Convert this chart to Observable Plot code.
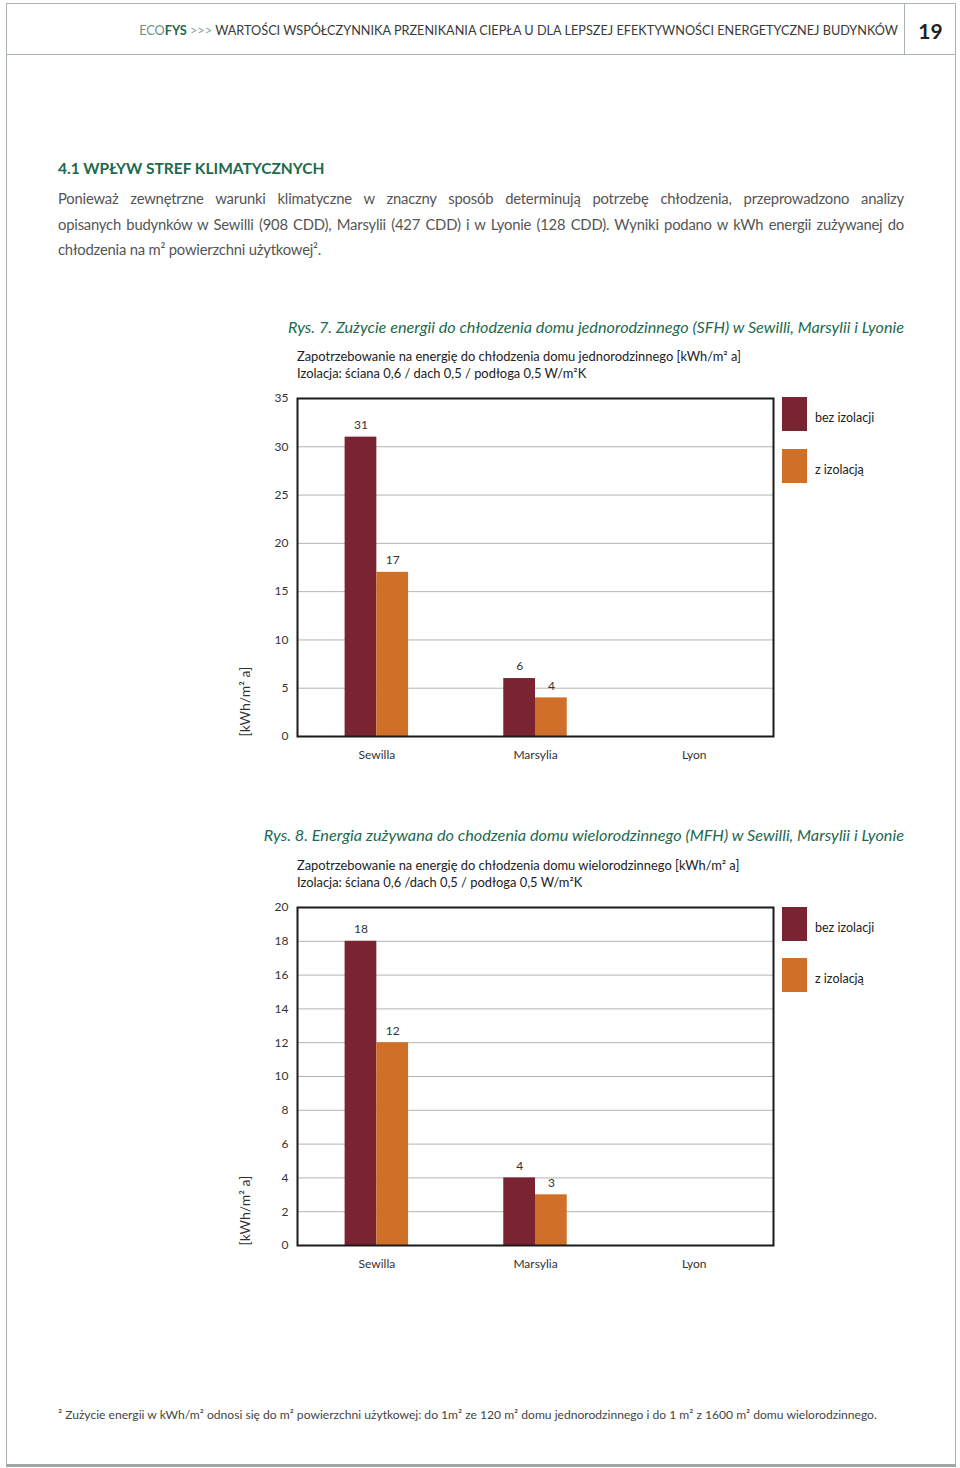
<!DOCTYPE html>
<html lang="pl">
<head>
<meta charset="utf-8">
<script src="https://cdn.jsdelivr.net/npm/d3@7"></script>
<script src="https://cdn.jsdelivr.net/npm/@observablehq/plot@0.6"></script>
<style>
  html, body { margin: 0; padding: 0; background: #fff; }
  #page { position: relative; width: 960px; height: 1468px; overflow: hidden; font-family: Lato, "Open Sans", sans-serif; color: #333; }
  .abs { position: absolute; white-space: nowrap; }
  .border { position: absolute; left: 6px; top: 3px; width: 948px; height: 1460px; border: 1.5px solid #a9b3af; border-bottom-width: 3px; border-bottom-color: #9ea8a4; }
  .hline { position: absolute; left: 6px; top: 54px; width: 950px; height: 0; border-top: 1.5px solid #a9b3af; }
  .vline { position: absolute; left: 904px; top: 3px; width: 0; height: 52px; border-left: 1.5px solid #a9b3af; }
  .green { color: #1d6a4e; }
  .swatch { position: absolute; width: 25px; height: 34px; }
  .leg { position: absolute; font-size: 12.5px; color: #222; line-height: 16px; }
  .chart { position: absolute; left: 0; }
  .para { position: absolute; left: 58px; width: 846px; font-size: 14.8px; letter-spacing: -0.2px; line-height: 25.5px; color: #555; white-space: nowrap; }
  .jl { text-align: justify; text-align-last: justify; }
</style>
</head>
<body>
<div id="page">
  <div class="border"></div>
  <div class="hline"></div>
  <div class="vline"></div>

  <div class="abs" style="right:62px; top:22px; font-size:12.7px; line-height:16px; color:#3a3a3a;"><span style="color:#6f8f84;">ECO</span><b style="color:#1d6a4e;">FYS</b> <span style="color:#8aa59b;">&gt;&gt;&gt;</span> WARTOŚCI WSPÓŁCZYNNIKA PRZENIKANIA CIEPŁA U DLA LEPSZEJ EFEKTYWNOŚCI ENERGETYCZNEJ BUDYNKÓW</div>
  <div class="abs" style="left:905px; width:51px; text-align:center; top:18px; font-size:21px; line-height:26px; font-weight:bold; color:#222;">19</div>

  <div class="abs green" style="left:58px; top:158px; font-size:15.5px; line-height:20px; font-weight:bold;">4.1 WPŁYW STREF KLIMATYCZNYCH</div>
  <div class="para jl" style="top:186px;">Ponieważ zewnętrzne warunki klimatyczne w znaczny sposób determinują potrzebę chłodzenia, przeprowadzono analizy</div>
  <div class="para jl" style="top:211.5px;">opisanych budynków w Sewilli (908 CDD), Marsylii (427 CDD) i w Lyonie (128 CDD). Wyniki podano w kWh energii zużywanej do</div>
  <div class="para" style="top:237px;">chłodzenia na m² powierzchni użytkowej².</div>

  <div class="abs green" style="right:56px; top:317px; font-size:16.2px; line-height:20px; font-style:italic;">Rys. 7. Zużycie energii do chłodzenia domu jednorodzinnego (SFH) w Sewilli, Marsylii i Lyonie</div>
  <div class="abs" style="left:297px; top:348px; font-size:12.9px; line-height:17px; color:#222;">Zapotrzebowanie na energię do chłodzenia domu jednorodzinnego [kWh/m² a]<br>Izolacja: ściana 0,6 / dach 0,5 / podłoga 0,5 W/m²K</div>
  <div id="chart1" class="chart" style="top:388px;"></div>
  <div class="swatch" style="left:782px; top:397px; background:#7a2331;"></div>
  <div class="leg" style="left:815px; top:410px;">bez izolacji</div>
  <div class="swatch" style="left:782px; top:449px; background:#d07028;"></div>
  <div class="leg" style="left:815px; top:462px;">z izolacją</div>

  <div class="abs green" style="right:56px; top:825px; font-size:16.3px; line-height:20px; font-style:italic;">Rys. 8. Energia zużywana do chodzenia domu wielorodzinnego (MFH) w Sewilli, Marsylii i Lyonie</div>
  <div class="abs" style="left:297px; top:857px; font-size:12.9px; line-height:16.5px; color:#222;">Zapotrzebowanie na energię do chłodzenia domu wielorodzinnego [kWh/m² a]<br>Izolacja: ściana 0,6 /dach 0,5 / podłoga 0,5 W/m²K</div>
  <div id="chart2" class="chart" style="top:897px;"></div>
  <div class="swatch" style="left:782px; top:907px; background:#7a2331;"></div>
  <div class="leg" style="left:815px; top:920px;">bez izolacji</div>
  <div class="swatch" style="left:782px; top:958px; background:#d07028;"></div>
  <div class="leg" style="left:815px; top:971px;">z izolacją</div>

  <div class="abs" style="left:58px; top:1407px; font-size:12.1px; line-height:16px; color:#444;">² Zużycie energii w kWh/m² odnosi się do m² powierzchni użytkowej: do 1m² ze 120 m² domu jednorodzinnego i do 1 m² z 1600 m² domu wielorodzinnego.</div>
</div>

<script>
// ---- data ----
const cities = ["Sewilla", "Marsylia", "Lyon"];
const seriesNames = ["bez izolacji", "z izolacją"];
const seriesColors = ["#7a2331", "#d07028"];

const sfhBez = [31, 6, null];
const sfhZ = [17, 4, null];
const sfhTicks = [0, 5, 10, 15, 20, 25, 30, 35];

const mfhBez = [18, 4, null];
const mfhZ = [12, 3, null];
const mfhTicks = [0, 2, 4, 6, 8, 10, 12, 14, 16, 18, 20];

const yLabel = "[kWh/m² a]";

function rows(bez, z) {
  const out = [];
  cities.forEach((c, i) => {
    if (bez[i] != null) out.push({city: c, idx: i, s: 0, series: seriesNames[0], value: bez[i]});
    if (z[i] != null) out.push({city: c, idx: i, s: 1, series: seriesNames[1], value: z[i]});
  });
  return out;
}

function chart(bez, z, ticks) {
  const data = rows(bez, z);
  const ymax = ticks[ticks.length - 1];
  const barW = 0.2;
  return Plot.plot({
    width: 960,
    height: 382,
    marginLeft: 297,
    marginRight: 187,
    marginTop: 10,
    marginBottom: 34,
    style: {fontFamily: "Lato, 'Open Sans', sans-serif", fontSize: "12px", color: "#333", background: "transparent"},
    x: {type: "linear", domain: [-0.5, cities.length - 0.5], ticks: cities.map((c, i) => i),
        tickFormat: i => cities[i], tickSize: 0, tickPadding: 14, label: null},
    y: {domain: [0, ymax], ticks: ticks, tickSize: 0, tickPadding: 9, label: null},
    color: {domain: seriesNames, range: seriesColors},
    marks: [
      Plot.ruleY(ticks.filter(t => t > 0 && t < ymax), {stroke: "#b4b4b4", strokeWidth: 1}),
      Plot.rectY(data, {
        x1: d => d.idx - barW + d.s * barW,
        x2: d => d.idx + d.s * barW,
        y: "value",
        fill: "series"
      }),
      Plot.text(data, {
        x: d => d.idx - barW / 2 + d.s * barW,
        y: "value",
        text: d => String(d.value),
        dy: -12,
        fontSize: 12,
        fill: "#333"
      }),
      Plot.frame({stroke: "#1a1a1a", strokeWidth: 2}),
      Plot.text([yLabel], {
        text: d => d,
        frameAnchor: "bottom-left",
        rotate: -90,
        textAnchor: "start",
        dx: -48,
        fontSize: 14,
        fill: "#333"
      })
    ]
  });
}

document.getElementById("chart1").appendChild(chart(sfhBez, sfhZ, sfhTicks));
document.getElementById("chart2").appendChild(chart(mfhBez, mfhZ, mfhTicks));
</script>
</body>
</html>
